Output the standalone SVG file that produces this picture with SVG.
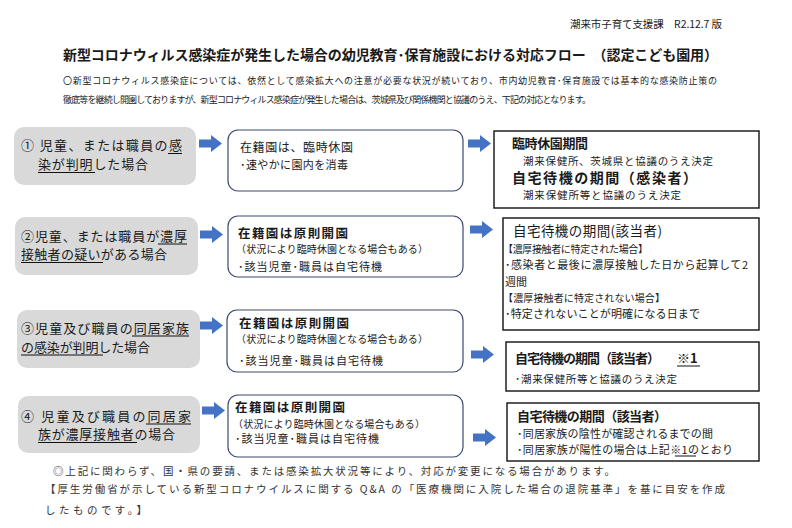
<svg xmlns="http://www.w3.org/2000/svg" width="792" height="528" viewBox="0 0 792 528">
<style>
text{font-family:"Noto Sans CJK JP","Noto Sans",sans-serif;fill:#1a1a1a}
.hd{font-size:10.5px}
.tt{font-size:14px;font-weight:bold}
.pp{font-size:9px}
.lb{font-size:13px}
.mh{font-size:12px}
.mb{font-size:12.5px;font-weight:bold}
.ms{font-size:10px}
.md{font-size:11px}
.rb{font-size:13px;font-weight:bold}
.rs{font-size:10.5px}
.rt{font-size:13.5px}
.bk{font-size:10px}
.ft{font-size:10.5px;fill:#333}
.gray{fill:#d9d9d9}
.mid{fill:#fff;stroke:#3c4a70;stroke-width:1.2}
.res{fill:#fff;stroke:#111;stroke-width:1.4}
.ul{stroke:#111;stroke-width:1}
.arr{fill:#4472c4}
</style>
<defs>
<path id="arrow" d="M0,4.5 H12 V0 L23,8.5 L12,17 V12.5 H0 Z"/>
</defs>

<text class="hd" x="570" y="28" textLength="152">潮来市子育て支援課　R2.12.7 版</text>
<text class="tt" x="63" y="60" textLength="655">新型コロナウィルス感染症が発生した場合の幼児教育･保育施設における対応フロー　（認定こども園用）</text>
<text class="pp" x="63" y="84" textLength="654">〇新型コロナウィルス感染症については、依然として感染拡大への注意が必要な状況が続いており、市内幼児教育･保育施設では基本的な感染防止策の</text>
<text class="pp" x="63" y="103" textLength="528">徹底等を継続し開園しておりますが、新型コロナウィルス感染症が発生した場合は、茨城県及び関係機関と協議のうえ、下記の対応となります。</text>

<g id="case1">
<rect class="gray" x="14" y="127" width="182" height="58" rx="10"/>
<text class="lb" x="21" y="150" textLength="161">① 児童、または職員の感</text>
<text class="lb" x="38" y="169" textLength="110">染が判明した場合</text>
<line class="ul" x1="168" y1="153.5" x2="182" y2="153.5"/>
<line class="ul" x1="38" y1="172.5" x2="95" y2="172.5"/>
</g>
<g id="case2">
<rect class="gray" x="15" y="217" width="183" height="58" rx="10"/>
<text class="lb" x="21" y="241" textLength="166">②児童、または職員が濃厚</text>
<text class="lb" x="21" y="259" textLength="146">接触者の疑いがある場合</text>
<line class="ul" x1="158" y1="244" x2="187" y2="244"/>
<line class="ul" x1="21" y1="262.5" x2="103" y2="262.5"/>
</g>
<g id="case3">
<rect class="gray" x="17" y="310" width="183" height="58" rx="10"/>
<text class="lb" x="21" y="333" textLength="168">③児童及び職員の同居家族</text>
<text class="lb" x="21" y="352" textLength="129">の感染が判明した場合</text>
<line class="ul" x1="132" y1="336" x2="189" y2="336"/>
<line class="ul" x1="21" y1="355" x2="103" y2="355"/>
</g>
<g id="case4">
<rect class="gray" x="18" y="396" width="182" height="57" rx="10"/>
<text class="lb" x="21" y="421" textLength="170">④ 児童及び職員の同居家</text>
<text class="lb" x="38" y="439" textLength="137">族が濃厚接触者の場合</text>
<line class="ul" x1="146" y1="424" x2="191" y2="424"/>
<line class="ul" x1="38" y1="442.5" x2="137" y2="442.5"/>
</g>

<g id="action1">
<rect class="mid" x="228" y="130" width="235" height="61" rx="10"/>
<text class="mh" x="240" y="152" textLength="113">在籍園は、臨時休園</text>
<text class="md" x="240" y="168.5" textLength="108">･速やかに園内を消毒</text>
</g>
<g id="action2">
<rect class="mid" x="228" y="216" width="235" height="61" rx="10"/>
<text class="mb" x="238" y="238" textLength="110">在籍園は原則開園</text>
<text class="ms" x="236" y="253" textLength="192">（状況により臨時休園となる場合もある）</text>
<text class="md" x="238" y="271" textLength="144">･該当児童･職員は自宅待機</text>
</g>
<g id="action3">
<rect class="mid" x="227" y="310" width="236" height="62" rx="10"/>
<text class="mb" x="239" y="328" textLength="110">在籍園は原則開園</text>
<text class="ms" x="236" y="343" textLength="192">（状況により臨時休園となる場合もある）</text>
<text class="md" x="239" y="365" textLength="144">･該当児童･職員は自宅待機</text>
</g>
<g id="action4">
<rect class="mid" x="228" y="395" width="235" height="62" rx="10"/>
<text class="mb" x="235" y="412" textLength="110">在籍園は原則開園</text>
<text class="ms" x="233" y="427.5" textLength="192">（状況により臨時休園となる場合もある）</text>
<text class="md" x="235" y="443" textLength="144">･該当児童･職員は自宅待機</text>
</g>

<g id="result1">
<rect class="res" x="494" y="131" width="265" height="77"/>
<text class="rb" x="512" y="148" textLength="76">臨時休園期間</text>
<text class="rs" x="523" y="165" textLength="190">潮来保健所、茨城県と協議のうえ決定</text>
<text class="rb" x="512" y="183" style="font-size:14px" textLength="185">自宅待機の期間（感染者）</text>
<text class="rs" x="523" y="199" textLength="158">潮来保健所等と協議のうえ決定</text>
</g>
<g id="result2">
<rect class="res" x="503" y="218" width="256" height="112"/>
<text class="rt" x="513" y="236" textLength="149">自宅待機の期間(該当者)</text>
<text class="bk" x="503" y="253" textLength="145">【濃厚接触者に特定された場合】</text>
<text class="md" x="505" y="269" textLength="243">･感染者と最後に濃厚接触した日から起算して2</text>
<text class="md" x="505" y="286">週間</text>
<text class="bk" x="503" y="302" textLength="162">【濃厚接触者に特定されない場合】</text>
<text class="md" x="505" y="318" textLength="195">･特定されないことが明確になる日まで</text>
</g>
<g id="result3">
<rect class="res" x="506" y="342" width="253" height="49"/>
<text class="rb" x="515" y="363" textLength="145">自宅待機の期間（該当者）</text>
<text class="rb" x="677" y="363">※1</text>
<line class="ul" x1="677" y1="366" x2="700" y2="366"/>
<text class="rs" x="515" y="383" textLength="162">･潮来保健所等と協議のうえ決定</text>
</g>
<g id="result4">
<rect class="res" x="507" y="403" width="252" height="58"/>
<text class="rb" x="517" y="420.5" textLength="150">自宅待機の期間（該当者）</text>
<text class="md" x="517" y="437.5" textLength="196">･同居家族の陰性が確認されるまでの間</text>
<text class="md" x="517" y="453.5" textLength="216">･同居家族が陽性の場合は上記※1のとおり</text>
<line class="ul" x1="675" y1="456" x2="696" y2="456"/>
</g>

<g id="connectors">
<use href="#arrow" class="arr" x="199" y="135"/>
<use href="#arrow" class="arr" x="200" y="226"/>
<use href="#arrow" class="arr" x="200" y="317"/>
<use href="#arrow" class="arr" x="202" y="402"/>
<use href="#arrow" class="arr" x="468" y="135"/>
<use href="#arrow" class="arr" x="470" y="221"/>
<use href="#arrow" class="arr" x="471" y="346"/>
<use href="#arrow" class="arr" x="473" y="429"/>
</g>

<text class="ft" x="53" y="475" textLength="562">◎上記に関わらず、国・県の要請、または感染拡大状況等により、対応が変更になる場合があります。</text>
<text class="ft" x="45" y="493" textLength="680">【厚生労働省が示している新型コロナウイルスに関する Q&amp;A の「医療機関に入院した場合の退院基準」を基に目安を作成</text>
<text class="ft" x="45" y="514" textLength="102">したものです。】</text>
</svg>
